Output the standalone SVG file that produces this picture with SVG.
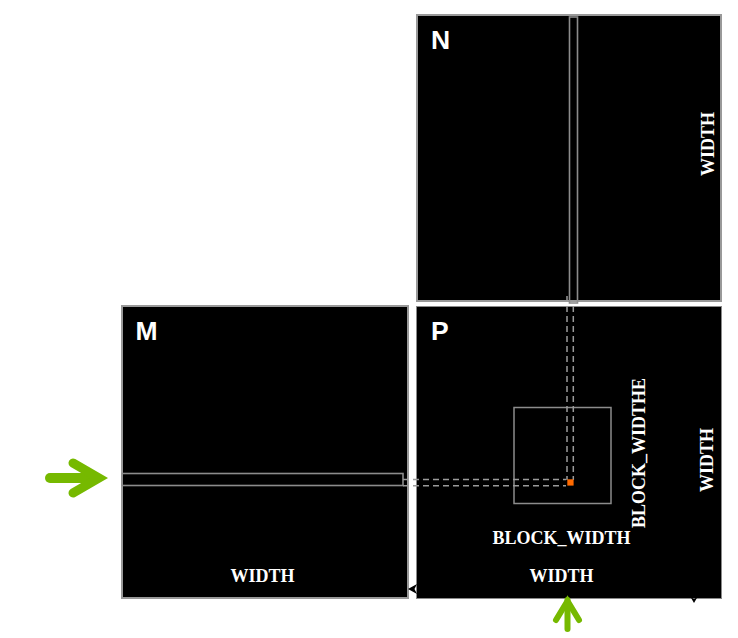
<svg xmlns="http://www.w3.org/2000/svg" width="738" height="638" viewBox="0 0 738 638">
<style>
.box{fill:#000;stroke:#999;stroke-width:2}
.pbox{fill:#000;stroke:#8a8a8a;stroke-width:1}
.strip{fill:none;stroke:#8c8c8c;stroke-width:1.6}
.dash{fill:none;stroke:#9a9a9a;stroke-width:1.5;stroke-dasharray:6 4}
.name{font-family:"Liberation Sans",Arial,sans-serif;font-size:26.5px;font-weight:bold;fill:#fff}
.lbl{font-family:"Liberation Serif","Times New Roman",serif;font-size:18px;font-weight:bold;fill:#fff;text-anchor:middle}
.garrow{fill:none;stroke:#76b900;stroke-linecap:round}
</style>
<rect width="738" height="638" fill="#fff"/>
<g id="N">
<rect class="box" x="417" y="15" width="304" height="286"/>
<text class="name" x="431" y="48.5">N</text>
<text class="lbl" transform="translate(714,144) rotate(-90)">WIDTH</text>
</g>
<g id="M">
<rect class="box" x="122" y="306" width="286" height="292"/>
<text class="name" x="135.5" y="340">M</text>
<text class="lbl" x="262.5" y="582">WIDTH</text>
</g>
<g id="P">
<rect class="pbox" x="416.5" y="306.5" width="305" height="292"/>
<text class="name" x="431" y="340">P</text>
<rect x="514" y="407.5" width="97" height="96" fill="none" stroke="#8c8c8c" stroke-width="1.5"/>
<text class="lbl" x="561.5" y="544">BLOCK_WIDTH</text>
<text class="lbl" transform="translate(645,453) rotate(-90)">BLOCK_WIDTHE</text>
<text class="lbl" transform="translate(712.5,460) rotate(-90)">WIDTH</text>
<text class="lbl" x="561.5" y="582">WIDTH</text>
</g>
<g id="connectors">
<rect class="strip" x="569.5" y="17" width="8" height="286"/>
<rect class="strip" x="122" y="473.5" width="281" height="12"/>
<path class="dash" d="M403,479.5 H566 M403,485.8 H566"/>
<path class="dash" d="M567,296 V480 M573.3,306 V480"/>
<rect x="567.3" y="479.3" width="6.3" height="6.3" fill="#ff6a00"/>
<path class="garrow" stroke-width="10" stroke-linecap="butt" d="M50,478 H95"/>
<polyline class="garrow" stroke-width="9" stroke-linejoin="miter" points="73,463 99,478 73,493"/>
<path class="garrow" stroke-width="6" stroke-linecap="butt" d="M567.5,629 V600"/>
<polyline class="garrow" stroke-width="6" stroke-linejoin="miter" points="556,620 567.5,601 579,620"/>
<polygon points="408,589 417,584 414.5,589 417,594" fill="#000"/>
<polygon points="694,603 690.5,597 694,599 697.5,597" fill="#000"/>
</g>
</svg>
